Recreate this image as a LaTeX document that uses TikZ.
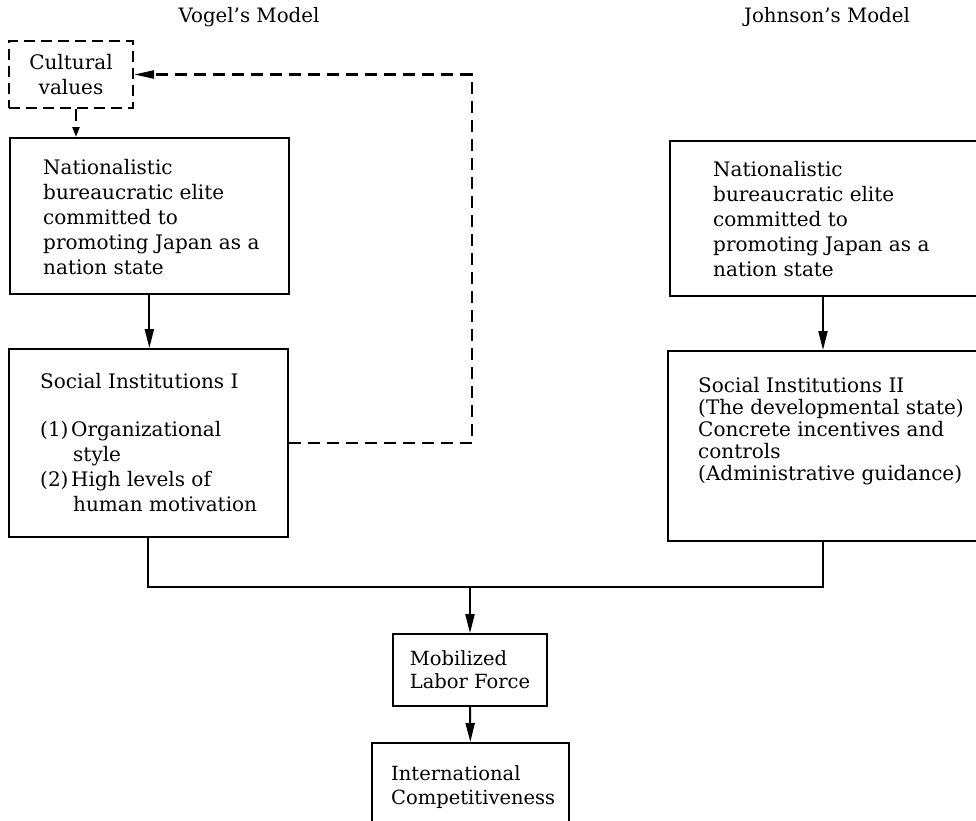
\documentclass[tikz,border=0pt]{standalone}
\usepackage{fontspec}
\setmainfont{DejaVu Serif}
\usetikzlibrary{arrows.meta}
\begin{document}
\begin{tikzpicture}[x=1pt,y=-1pt,
  box/.style={draw, line width=1.7pt, rectangle, inner sep=0pt, anchor=north west},
  dbox/.style={box, line width=2pt, dash pattern=on 11pt off 6pt},
  txt/.style={inner sep=0pt, anchor=north west, align=left, font=\fontsize{20}{25}\selectfont},
  ttl/.style={inner sep=0pt, font=\fontsize{19.8}{24}\selectfont},
  conn/.style={line width=2pt},
  arr/.style={conn, -{Triangle[length=19pt,width=9pt]}},
  dconn/.style={line width=2.3pt, dash pattern=on 12pt off 7pt},
]
\useasboundingbox (0,0) rectangle (976,820);
\clip (0,0) rectangle (976,820);

% titles
\node[ttl] (vt) at (249,17) {Vogel's Model};
\node[ttl] (jt) at (827,17) {Johnson's Model};

% Vogel's model
\node[dbox, anchor=center, minimum width=124pt, minimum height=67pt, align=center,
      font=\fontsize{20}{25}\selectfont] (cv) at (71,74.5) {Cultural\\values};

\node[box, minimum width=279pt, minimum height=156pt] (vn) at (9,137) {};
\node[txt] (vnt) at (43,159) {Nationalistic\\bureaucratic elite\\committed to\\promoting Japan as a\\nation state};

\node[box, minimum width=279pt, minimum height=188pt] (si1) at (8,348) {};
\node[txt] (si1t) at (40,373) {Social Institutions I\\[23pt]\makebox[31pt][l]{(1)}Organizational\\\hspace*{33pt}style\\\makebox[31pt][l]{(2)}High levels of\\\hspace*{33pt}human motivation};

% Johnson's model
\node[box, minimum width=330pt, minimum height=155pt] (jn) at (669,140) {};
\node[txt] (jnt) at (713,161) {Nationalistic\\bureaucratic elite\\committed to\\promoting Japan as a\\nation state};

\node[box, minimum width=330pt, minimum height=190pt] (si2) at (667,350) {};
\node[txt, font=\fontsize{20}{22}\selectfont] (si2t) at (698,377) {Social Institutions II\\(The developmental state)\\Concrete incentives and\\controls\\(Administrative guidance)};

% bottom
\node[box, anchor=center, minimum width=154pt, minimum height=72pt, align=left,
      font=\fontsize{19.5}{23}\selectfont] (mob) at (470,670) {Mobilized\\Labor Force};

\node[box, minimum width=197pt, minimum height=100pt] (ic) at (371,742) {};
\node[txt, font=\fontsize{19.5}{24}\selectfont] (ict) at (391,765) {International\\Competitiveness};

% connectors
\coordinate (jx) at (823,0);
\coordinate (bus) at (470,587);

\draw[dconn, -{Triangle[length=10pt,width=7pt]}] ([xshift=5pt]cv.south) -- ([xshift=5pt]cv.south |- vn.north);
\draw[arr] (vn.south) -- (vn.south |- si1.north);
\draw[dconn, -{Triangle[length=20pt,width=8pt]}] (si1.east) -- ++(183,0) |- (cv.east);

\draw[arr] (jn.south -| jx) -- (si2.north -| jx);

\draw[conn] (si1.south) |- (bus) -| (si2.south -| jx);
\draw[arr] (bus) -- (mob.north);
\draw[arr] (mob.south) -- (ic.north);
\end{tikzpicture}
\end{document}
